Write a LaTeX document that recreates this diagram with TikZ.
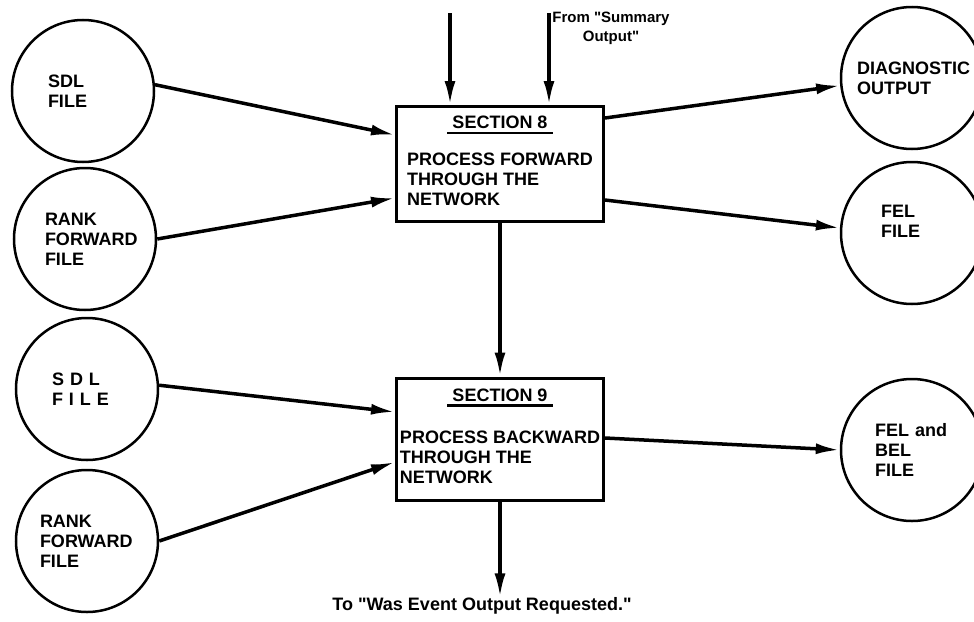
\documentclass[tikz,border=0pt]{standalone}
\usepackage{fontspec}
\setmainfont{Liberation Sans}
\usetikzlibrary{arrows.meta}
\newcommand{\heading}[1]{\setbox0=\hbox{\hskip5pt #1\hskip5pt}\vtop{\copy0\kern3pt\hrule height 2.5pt width \wd0}}

\begin{document}
\begin{tikzpicture}[x=1pt, y=-1pt,
  file/.style={draw, circle, line width=2.5pt, minimum size=142pt, inner sep=0pt, align=left, text width=#1, font=\bfseries\fontsize{18}{20}\selectfont},
  section/.style={draw, line width=3pt, minimum width=207pt, inner sep=0pt, align=center, font=\bfseries\fontsize{18}{20}\selectfont},
  note/.style={inner sep=0pt, align=center, font=\bfseries\fontsize{18}{20}\selectfont},
  arrow/.style={-{Latex[length=24pt,width=11pt]}, line width=3.5pt}
]
  \useasboundingbox (0,0) rectangle (974,621);

  % Input files
  \node[file=70pt] (sdlA) at (83, 91) {SDL\\FILE};
  \node[file=80pt] (rankA) at (85, 239) {RANK\\FORWARD\\FILE};
  \node[file=70pt] (sdlB) at (87, 389) {S D L\\F I L E};
  \node[file=94pt] (rankB) at (87, 541) {RANK\\FORWARD\\FILE};

  % Sections
  \node[section, minimum height=115pt] (sec8) at (500, 164) {\heading{SECTION 8}\\[17pt]\begin{tabular}[t]{@{}l@{}}PROCESS FORWARD\\THROUGH THE\\NETWORK\end{tabular}};
  \node[section, minimum height=122pt] (sec9) at (500, 439) {\heading{SECTION 9}\\[22pt]\begin{tabular}[t]{@{}l@{}}PROCESS BACKWARD\\THROUGH THE\\NETWORK\end{tabular}};

  % Output files
  \node[file=110pt] (diag) at (912, 78) {DIAGNOSTIC\\OUTPUT};
  \node[file=62pt] (fel) at (912, 233) {FEL\\FILE\\[4pt]\mbox{}};
  \node[file=74pt] (felbel) at (912, 450) {FEL and\\BEL\\FILE};

  % Other sections
  \coordinate (in1) at (450, 13);
  \coordinate (in2) at (549, 13);
  \node[note, font=\bfseries\fontsize{15}{19}\selectfont] (summary) at (611, 28) {From \textquotedbl Summary\\Output\textquotedbl};
  \node[note] (was) at (482, 606) {To \textquotedbl Was Event Output Requested.\textquotedbl};

  % Arrows
  \draw[arrow] (in1) -- (in1 |- sec8.north);
  \draw[arrow] (in2) -- (in2 |- sec8.north);
  \draw[arrow] (sdlA.5) -- ([yshift=29pt]sec8.west);
  \draw[arrow] (rankA.0) -- ([yshift=-34pt]sec8.west);
  \draw[arrow] ([yshift=46pt]sec8.east) -- (diag.186);
  \draw[arrow] ([yshift=-36pt]sec8.east) -- (fel.176);
  \draw[arrow] (sec8) -- (sec9);
  \draw[arrow] (sdlB.3) -- ([yshift=27pt]sec9.west);
  \draw[arrow] (rankB.0) -- ([yshift=-23pt]sec9.west);
  \draw[arrow] ([yshift=1pt]sec9.east) -- (felbel.180);
  \draw[arrow] (sec9) -- (sec9.south |- was.north);
\end{tikzpicture}
\end{document}
